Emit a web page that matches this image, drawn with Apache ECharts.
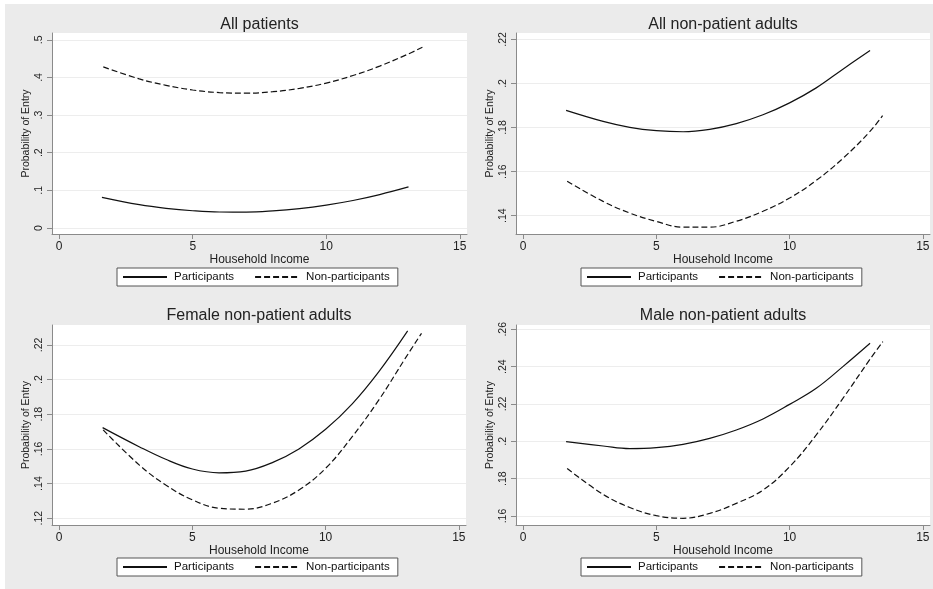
<!DOCTYPE html>
<html>
<head>
<meta charset="utf-8">
<script src="https://cdn.jsdelivr.net/npm/echarts@6/dist/echarts.min.js"></script>
<style>
  html, body { margin: 0; padding: 0; background: #ffffff; }
  #bg { position: absolute; left: 5px; top: 4px; width: 928px; height: 585px; background: #ebebeb; }
  #chart { position: absolute; left: 0; top: 0; width: 933px; height: 589px; }
</style>
</head>
<body>
<div id="bg"></div>
<div id="chart"></div>
<script>
// Household income values where each fitted curve is sampled
const partIncomeAll   = [1.6, 3, 4, 5, 6, 7, 8, 9, 10, 11, 12, 13.08];
const nonIncomeAll    = [1.65, 3, 4, 5, 6, 7, 8, 9, 10, 11, 12, 13, 13.6];
const partIncomeAdult = [1.61, 3, 4, 5, 6, 7, 8, 9, 10, 11, 12, 13.02];
const nonIncomeAdult  = [1.65, 3, 4, 5, 6, 7, 8, 9, 10, 11, 12, 13, 13.49];
const partIncomeFem   = [1.63, 3, 4, 5, 6, 7, 8, 9, 10, 11, 12, 13.08];
const nonIncomeFem    = [1.65, 3, 4, 5, 6, 7, 8, 9, 10, 11, 12, 13, 13.6];
const partIncomeMale  = [1.61, 3, 4, 5, 6, 7, 8, 9, 10, 11, 12, 13.02];
const nonIncomeMale   = [1.65, 3, 4, 5, 6, 7, 8, 9, 10, 11, 12, 13, 13.5];

// Probability of entry: All patients
const allPatientsPart = [0.0815, 0.062, 0.0522, 0.0458, 0.0425, 0.0423, 0.0454, 0.0515, 0.0608, 0.073, 0.0887, 0.109];
const allPatientsNon  = [0.428, 0.396, 0.379, 0.3665, 0.3597, 0.358, 0.362, 0.371, 0.385, 0.405, 0.43, 0.46, 0.48];
// All non-patient adults
const allAdultsPart = [0.1878, 0.1828, 0.1801, 0.1786, 0.1781, 0.1792, 0.1818, 0.1858, 0.1912, 0.1980, 0.2065, 0.2150];
const allAdultsNon  = [0.1556, 0.1465, 0.1412, 0.1374, 0.1348, 0.1348, 0.1375, 0.1420, 0.1480, 0.1560, 0.1660, 0.1780, 0.1854];
// Female non-patient adults
const femaleAdultsPart = [0.1723, 0.1613, 0.1540, 0.1484, 0.1462, 0.1472, 0.1521, 0.1600, 0.1713, 0.1860, 0.2046, 0.2281];
const femaleAdultsNon  = [0.1710, 0.1508, 0.1392, 0.1306, 0.1258, 0.1252, 0.1287, 0.1363, 0.1488, 0.1671, 0.1883, 0.2125, 0.2267];
// Male non-patient adults
const maleAdultsPart = [0.1998, 0.1975, 0.1961, 0.1966, 0.1984, 0.2016, 0.2061, 0.2120, 0.2198, 0.2284, 0.2400, 0.2525];
const maleAdultsNon  = [0.1855, 0.1716, 0.1646, 0.1602, 0.1588, 0.1614, 0.1668, 0.1739, 0.1864, 0.2034, 0.2230, 0.2436, 0.2534];

// Tick labels
const xTicks = [0, 5, 10, 15];
const yTicksAllPatients = [0, 0.1, 0.2, 0.3, 0.4, 0.5];
const yTicksAllAdults   = [0.14, 0.16, 0.18, 0.2, 0.22];
const yTicksFemale      = [0.12, 0.14, 0.16, 0.18, 0.2, 0.22];
const yTicksMale        = [0.16, 0.18, 0.2, 0.22, 0.24, 0.26];

const panelTitles = ['All patients', 'All non-patient adults', 'Female non-patient adults', 'Male non-patient adults'];
const seriesNames = ['Participants', 'Non-participants'];

const panelData = [
  { part: [partIncomeAll, allPatientsPart],    non: [nonIncomeAll, allPatientsNon],    yTicks: yTicksAllPatients, yMin: -0.016, yMax: 0.518 },
  { part: [partIncomeAdult, allAdultsPart],    non: [nonIncomeAdult, allAdultsNon],    yTicks: yTicksAllAdults,   yMin: 0.1317, yMax: 0.2229 },
  { part: [partIncomeFem, femaleAdultsPart],   non: [nonIncomeFem, femaleAdultsNon],   yTicks: yTicksFemale,      yMin: 0.1161, yMax: 0.2315 },
  { part: [partIncomeMale, maleAdultsPart],    non: [nonIncomeMale, maleAdultsNon],    yTicks: yTicksMale,        yMin: 0.1552, yMax: 0.2623 }
];

// Panel layout (pixels)
const layout = [
  { left: 52,  top: 33,  width: 415, height: 201, titleTop: 17,  legendLeft: 117, legendTop: 268 },
  { left: 516, top: 33,  width: 414, height: 201, titleTop: 17,  legendLeft: 581, legendTop: 268 },
  { left: 52,  top: 325, width: 414, height: 200, titleTop: 308, legendLeft: 117, legendTop: 558 },
  { left: 516, top: 325, width: 414, height: 200, titleTop: 308, legendLeft: 581, legendTop: 558 }
];

const FONT = '"Liberation Sans", Arial, Helvetica, sans-serif';
const INK = '#111111';
const AXIS = '#8a8a8a';

function zip(xs, ys) { return xs.map((x, i) => [x, ys[i]]); }
function fmtY(v) {
  if (Math.abs(v) < 1e-9) return '0';
  return String(+v.toFixed(2)).replace(/^0\./, '.');
}

const grid = [], xAxis = [], yAxis = [], series = [], title = [], legend = [];

panelData.forEach((p, i) => {
  const L = layout[i];
  grid.push({
    left: L.left, top: L.top, width: L.width, height: L.height,
    show: true, backgroundColor: '#ffffff', borderWidth: 0, containLabel: false
  });
  title.push({
    text: panelTitles[i],
    left: L.left + L.width / 2, top: L.titleTop, textAlign: 'center', padding: 0,
    textStyle: { fontFamily: FONT, fontSize: 16, fontWeight: 'normal', color: '#222' }
  });
  xAxis.push({
    gridIndex: i, type: 'value', min: -0.27, max: 15.27,
    axisLine: { show: true, onZero: false, lineStyle: { color: AXIS, width: 1 } },
    axisTick: { show: true, length: 5, customValues: xTicks, lineStyle: { color: AXIS } },
    axisLabel: { customValues: xTicks, fontFamily: FONT, fontSize: 12, color: '#222', margin: 7 },
    splitLine: { show: false },
    name: 'Household Income', nameLocation: 'middle', nameGap: 16,
    nameTextStyle: { fontFamily: FONT, fontSize: 12, color: '#222' }
  });
  yAxis.push({
    gridIndex: i, type: 'value', min: p.yMin, max: p.yMax,
    axisLine: { show: true, onZero: false, lineStyle: { color: AXIS, width: 1 } },
    axisTick: { show: true, length: 5, customValues: p.yTicks, lineStyle: { color: AXIS } },
    axisLabel: { customValues: p.yTicks, rotate: 90, fontFamily: FONT, fontSize: 10.5, color: '#222', margin: 7, formatter: fmtY },
    splitLine: { show: true, lineStyle: { color: '#ededed', width: 1 } },
    name: 'Probability of Entry', nameLocation: 'middle', nameGap: 20,
    nameTextStyle: { fontFamily: FONT, fontSize: 10.5, color: '#222' }
  });
  series.push({
    name: seriesNames[0], type: 'line', xAxisIndex: i, yAxisIndex: i,
    data: zip(p.part[0], p.part[1]), smooth: 0.4, symbol: 'none', showSymbol: false,
    lineStyle: { color: INK, width: 1.2, type: 'solid' }, itemStyle: { color: INK }, silent: true
  });
  series.push({
    name: seriesNames[1], type: 'line', xAxisIndex: i, yAxisIndex: i,
    data: zip(p.non[0], p.non[1]), smooth: 0.4, symbol: 'none', showSymbol: false,
    lineStyle: { color: INK, width: 1.2, type: [6, 3] }, itemStyle: { color: INK }, silent: true
  });
  legend.push({
    data: seriesNames, left: L.legendLeft, top: L.legendTop, orient: 'horizontal',
    padding: [3, 8, 3, 5], itemWidth: 44, itemHeight: 14, itemGap: 20,
    backgroundColor: '#ffffff', borderColor: '#555555', borderWidth: 1, borderRadius: 0,
    selectedMode: false,
    // line sample only, no marker
    itemStyle: { opacity: 0, borderWidth: 0 },
    textStyle: { fontFamily: FONT, fontSize: 11.5, color: INK, padding: [0, 0, 0, 2] }
  });
});

const chart = echarts.init(document.getElementById('chart'), null, { renderer: 'canvas' });
chart.setOption({
  backgroundColor: 'transparent',
  animation: false,
  title, grid, xAxis, yAxis, legend, series
});
</script>
</body>
</html>
